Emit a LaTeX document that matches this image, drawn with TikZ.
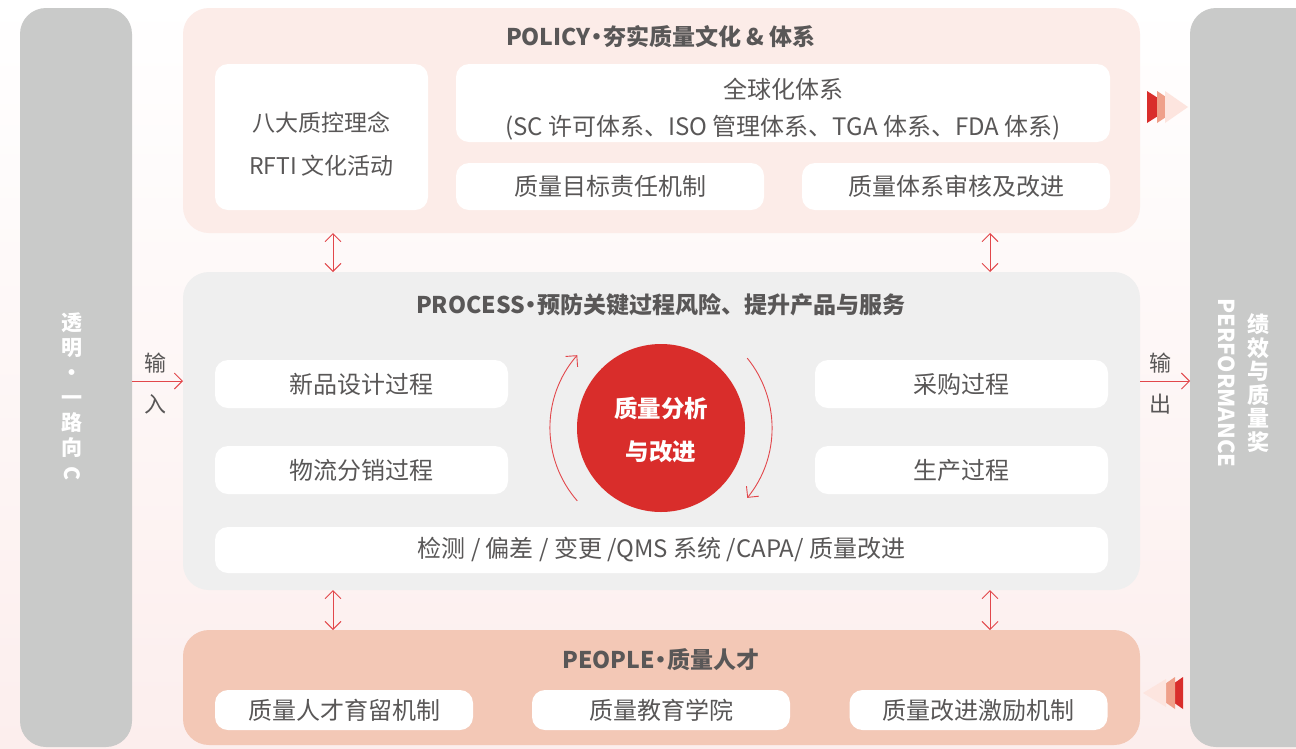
\documentclass[tikz,border=0pt]{standalone}
\usepackage{fontspec}
\setmainfont{Noto Sans CJK SC}
\usetikzlibrary{arrows.meta}
\definecolor{barGray}{HTML}{C9CAC9}
\definecolor{policyPink}{HTML}{FCECE8}
\definecolor{processGray}{HTML}{EFEFEF}
\definecolor{peopleSalmon}{HTML}{F3C8B6}
\definecolor{coreRed}{HTML}{D92D2B}
\definecolor{arrRed}{HTML}{E2474B}
\definecolor{txtGray}{HTML}{595757}
\definecolor{chevSalmon}{HTML}{EFA08A}
\definecolor{chevPale}{HTML}{FDE5DF}
\definecolor{bgPink}{HTML}{FCEEED}
\newcommand{\middot}{\kern-5pt·\kern-5pt}
\begin{document}
\begin{tikzpicture}[x=1pt, y=-1pt, >={Straight Barb[length=8pt,width=16pt]},
  panel/.style={rectangle, rounded corners=26pt, inner sep=0pt, outer sep=0pt},
  card/.style={rectangle, fill=white, rounded corners=13pt, inner sep=0pt, outer sep=0pt,
    text=txtGray, align=center, font=\fontsize{24}{28}\selectfont},
  cardtext/.style={text=txtGray, align=center},
  title/.style={text=txtGray, font=\bfseries\fontsize{23}{27}\selectfont},
  link/.style={draw=arrRed, line width=0.9pt}]
\useasboundingbox (0,0) rectangle (1296,748);
\fill[top color=white, bottom color=bgPink] (0,0) rectangle (1296,748);

% side bars
\node[panel, fill=barGray, minimum width=112pt, minimum height=739pt] (leftbar) at (76,377.5) {};
\node[panel, fill=barGray, minimum width=140pt, minimum height=739pt, anchor=west] (rightbar) at (1190,377.5) {};
\node[text=white, align=center, font=\bfseries\fontsize{21}{25}\selectfont] (motto) at (72,397)
  {透\\明\\·\\一\\路\\向\\\rotatebox[origin=c]{-90}{C}};
\node[text=white, align=center, font=\bfseries\fontsize{22}{23.5}\selectfont] (award) at (1258,383)
  {绩\\效\\与\\质\\量\\奖};
\node[text=white, rotate=-90, font=\bfseries\fontsize{22}{26}\selectfont] (perf) at (1227,383) {PERFORMANCE};

% policy
\node[panel, fill=policyPink, minimum width=957pt, minimum height=225pt] (policy) at (661.5,120.5) {};
\node[title] (poltitle) at (661,37) {POLICY\middot 夯实质量文化 \& 体系};
\node[card, minimum width=213pt, minimum height=146pt] (philo) at (321.5,137) {};
\node[cardtext, font=\fontsize{23}{43}\selectfont] (philotext) at ([yshift=-7pt]philo.center)
  {八大质控理念\\RFTI 文化活动};
\node[card, minimum width=654pt, minimum height=78pt] (global) at (783,103) {};
\node[cardtext, font=\fontsize{24}{37}\selectfont] (globaltext) at ([yshift=-6pt]global.center)
  {全球化体系\\(SC 许可体系、ISO 管理体系、TGA 体系、FDA 体系)};
\node[card, minimum width=308pt, minimum height=47pt] (target) at (610,186.5) {质量目标责任机制};
\node[card, minimum width=308pt, minimum height=47pt] (audit) at (956,186.5) {质量体系审核及改进};

% process
\node[panel, fill=processGray, minimum width=957pt, minimum height=318pt] (process) at (661.5,431) {};
\node[title] (protitle) at (661,305) {PROCESS\middot 预防关键过程风险、提升产品与服务};
\node[card, minimum width=293pt, minimum height=48pt] (newp) at (361.5,384) {新品设计过程};
\node[card, minimum width=293pt, minimum height=48pt] (logi) at (361.5,470) {物流分销过程};
\node[card, minimum width=293pt, minimum height=48pt] (purch) at (961.5,384) {采购过程};
\node[card, minimum width=293pt, minimum height=48pt] (prod) at (961.5,470) {生产过程};
\node[card, minimum width=893pt, minimum height=46pt] (qms) at (661.5,550) {检测 / 偏差 / 变更 /QMS 系统 /CAPA/ 质量改进};
\node[circle, fill=coreRed, minimum size=168pt, inner sep=0pt] (core) at (661,428) {};
\node[text=white, align=center, font=\bfseries\fontsize{23.5}{43}\selectfont] (coretext)
  at ([yshift=-2pt]core.center) {质量分析\\与改进};
\draw[link, ->] ([shift={(139:111)}]core.center) arc[start angle=139, end angle=221, radius=111];
\draw[link, ->] ([shift={(-39:111)}]core.center) arc[start angle=-39, end angle=39, radius=111];

% people
\node[panel, fill=peopleSalmon, minimum width=957pt, minimum height=115pt] (people) at (661.5,687.5) {};
\node[title] (peotitle) at (661,660) {PEOPLE\middot 质量人才};
\node[card, minimum width=258pt, minimum height=40pt] (talent) at (344,710) {质量人才育留机制};
\node[card, minimum width=258pt, minimum height=40pt] (edu) at (661,710) {质量教育学院};
\node[card, minimum width=258pt, minimum height=40pt] (incent) at (978.5,710) {质量改进激励机制};

% links
\coordinate (lk) at (333,0);
\coordinate (rk) at (990,0);
\coordinate (io) at (0,381);
\draw[link, <->] (policy.south -| lk) -- (process.north -| lk);
\draw[link, <->] (policy.south -| rk) -- (process.north -| rk);
\draw[link, <->] (process.south -| lk) -- (people.north -| lk);
\draw[link, <->] (process.south -| rk) -- (people.north -| rk);
\draw[link, ->] (leftbar.east |- io) -- (process.west |- io);
\draw[link, ->] (process.east |- io) -- (rightbar.west |- io);
\node[text=txtGray, align=center, font=\fontsize{22}{41}\selectfont] (inlbl) at (155,384) {输\\入};
\node[text=txtGray, align=center, font=\fontsize{22}{41}\selectfont] (outlbl) at (1160,384) {输\\出};

% chevrons
\fill[coreRed] (1147,91) -- (1147,123) -- (1172,107) -- cycle;
\fill[chevSalmon] (1157,91) -- (1157,123) -- (1181,107) -- cycle;
\fill[chevPale] (1165,91) -- (1165,123) -- (1188,107) -- cycle;
\fill[coreRed] (1183,677) -- (1183,709) -- (1160,693) -- cycle;
\fill[chevSalmon] (1175,677) -- (1175,709) -- (1152,693) -- cycle;
\fill[chevPale] (1166,679) -- (1166,707) -- (1143,693) -- cycle;
\end{tikzpicture}
\end{document}
